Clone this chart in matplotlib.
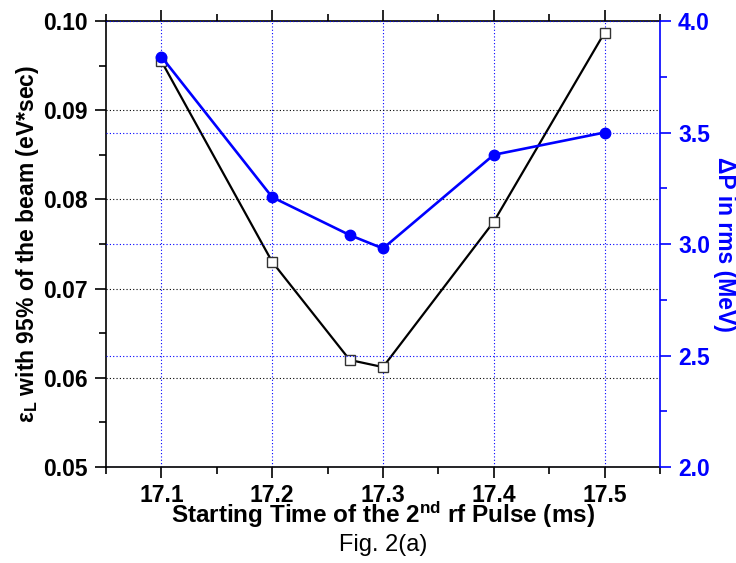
import matplotlib
matplotlib.use('Agg')
import matplotlib.pyplot as plt
from matplotlib.ticker import MultipleLocator

plt.rcParams['font.family'] = ['Liberation Sans', 'DejaVu Sans']
plt.rcParams['font.weight'] = 'bold'
plt.rcParams['axes.labelweight'] = 'bold'
plt.rcParams['mathtext.fontset'] = 'custom'
plt.rcParams['mathtext.rm'] = 'Liberation Sans:bold'
plt.rcParams['mathtext.it'] = 'Liberation Sans:bold'
plt.rcParams['mathtext.bf'] = 'Liberation Sans:bold'

# data
start_time = [17.1, 17.2, 17.27, 17.3, 17.4, 17.5]
emittance = [0.0955, 0.0730, 0.0620, 0.0612, 0.0775, 0.0987]   # eV*sec, left axis
dp_rms = [3.84, 3.21, 3.04, 2.98, 3.40, 3.50]                  # MeV, right axis

fig = plt.figure(figsize=(7.36, 5.63), dpi=100)
ax = fig.add_axes([0.144, 0.1705, 0.7527, 0.7922])
ax2 = ax.twinx()

dots = (0, (1, 2))

# left axis: emittance
ax.plot(start_time, emittance, color='black', lw=1.6, marker='s', ms=6.5,
        mfc='white', mec='#333333', mew=1.0, zorder=3)
ax.set_xlim(17.05, 17.55)
ax.set_ylim(0.05, 0.10)
ax.xaxis.set_major_locator(MultipleLocator(0.1))
ax.xaxis.set_minor_locator(MultipleLocator(0.05))
ax.yaxis.set_major_locator(MultipleLocator(0.01))
ax.yaxis.set_minor_locator(MultipleLocator(0.005))
ax.xaxis.grid(True, color='blue', linestyle=dots, linewidth=0.8)
ax.yaxis.grid(True, color='black', linestyle=dots, linewidth=0.8)
ax.tick_params(which='both', direction='out', width=1.2, top=True)
ax.tick_params(which='major', length=8, labelsize=16.5, pad=5)
ax.tick_params(which='minor', length=5)
ax.tick_params(axis='x', which='major', pad=4)
ax.yaxis.set_major_formatter(plt.FormatStrFormatter('%.2f'))
ax.set_xlabel('Starting Time of the 2$^{nd}$ rf Pulse (ms)', fontsize=17.5, labelpad=-5)
ax.set_ylabel('ε$_{L}$ with 95% of the beam (eV*sec)', fontsize=16.5)
ax.yaxis.set_label_coords(-0.118, 0.5)
for s in ax.spines.values():
    s.set_linewidth(1.2)
ax.spines['right'].set_visible(False)

# right axis: momentum spread
ax2.plot(start_time, dp_rms, color='blue', lw=1.9, marker='o', ms=7.5, zorder=3)
ax2.set_ylim(2.0, 4.0)
ax2.yaxis.set_major_locator(MultipleLocator(0.5))
ax2.yaxis.set_minor_locator(MultipleLocator(0.25))
ax2.yaxis.set_major_formatter(plt.FormatStrFormatter('%.1f'))
ax2.yaxis.grid(True, color='blue', linestyle=dots, linewidth=0.8)
ax2.tick_params(which='both', direction='out', width=1.2, colors='blue')
ax2.tick_params(which='major', length=8, labelsize=16.5, pad=5)
ax2.tick_params(which='minor', length=5)
ax2.set_ylabel('ΔP in rms (MeV)', fontsize=16.5, color='blue', rotation=270)
ax2.yaxis.set_label_coords(1.137, 0.5)
for name in ['left', 'top', 'bottom']:
    ax2.spines[name].set_visible(False)
ax2.spines['right'].set_color('blue')
ax2.spines['right'].set_linewidth(1.2)

fig.text(0.52, 1 - 545 / 563, 'Fig. 2(a)', ha='center', va='center',
         fontsize=17, fontweight='normal')

fig.savefig('out.png', dpi=100)
